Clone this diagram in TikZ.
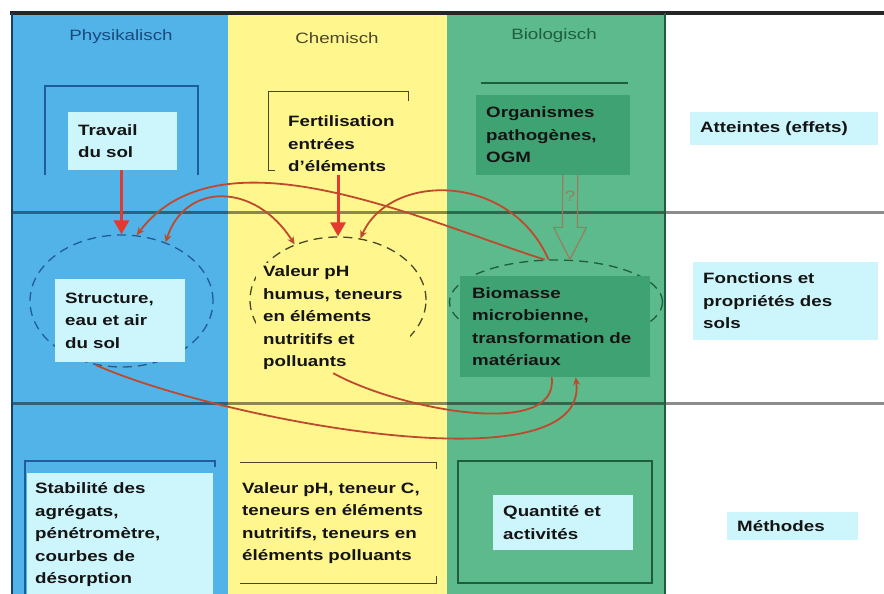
\documentclass[tikz,border=0pt]{standalone}
\usepackage{fontspec}
\setmainfont{Liberation Sans}[FakeStretch=1.25]
\usetikzlibrary{arrows.meta,shapes.geometric,calc}

\definecolor{physblue}{HTML}{52B3E8}
\definecolor{chemyellow}{HTML}{FFF68E}
\definecolor{biogreen}{HTML}{5DBA8D}
\definecolor{biodark}{HTML}{3FA273}
\definecolor{lightcyan}{HTML}{CDF6FC}
\definecolor{navyline}{HTML}{1F5C9A}
\definecolor{greenline}{HTML}{1E5E3E}
\definecolor{chemline}{HTML}{4A4628}
\definecolor{arrowred}{HTML}{E23A2E}
\definecolor{curvered}{HTML}{BE4A2E}
\definecolor{qbrown}{HTML}{9C7B5C}

\begin{document}
\begin{tikzpicture}[x=1pt,y=-1pt,
    >={Stealth[length=8pt,width=7pt]},
    txt/.style={font=\fontsize{15}{22.5}\selectfont\bfseries, text=black!92,
      align=left, anchor=west, inner xsep=10pt, inner ysep=3pt},
    cbox/.style={txt, fill=lightcyan},
    colhead/.style={font=\fontsize{15}{18}\selectfont},
    zone/.style={ellipse, dashed, dash pattern=on 9pt off 6pt, line width=1.3pt, inner sep=0pt},
    mainarr/.style={draw=arrowred, line width=3pt, -{Triangle[length=14pt,width=15pt]}},
    link/.style={draw=curvered, line width=1.8pt}]
  \useasboundingbox (0,0) rectangle (884,594);

  % columns and grid
  \fill[physblue] (12,13) rectangle (228,594);
  \fill[chemyellow] (228,13) rectangle (447,594);
  \fill[biogreen] (447,13) rectangle (665,594);
  \draw[black, opacity=.45, line width=3pt] (12,212) -- (884,212) (12,403) -- (884,403);
  \draw[black!85, line width=3.5pt] (10,13) -- (884,13);
  \draw[navyline!70!black, line width=2.5pt] (12,13) -- (12,594);
  \draw[greenline, line width=2pt] (665,13) -- (665,594);

  \node[colhead, text=navyline!80!black] (hphys) at (121,37) {Physikalisch};
  \node[colhead, text=chemline] (hchem) at (337,38) {Chemisch};
  \node[colhead, text=greenline] (hbio) at (554,36) {Biologisch};

  % frames
  \draw[navyline, line width=2pt] (45,175) -- (45,86) -- (198,86) -- (198,175);
  \draw[chemline, line width=1pt] (275,170) -- (268,170) -- (268,92) -- (408,92) -- (408,101);
  \draw[greenline, line width=2pt] (481,83) -- (628,83);
  \draw[navyline, line width=2pt] (25,594) -- (25,461) -- (215,461) -- (215,467);
  \draw[chemline, line width=1pt] (240,462) -- (436,462) -- (436,469)
    (240,583) -- (436,583) -- (436,576);

  % effects
  \node[cbox, text width=89pt, minimum height=58pt] (trav) at (68,141) {Travail\\du sol};
  \node[txt, text width=110pt] (fert) at (278,144) {Fertilisation\\entrées\\d'éléments};
  \node[txt, fill=biodark, text width=134pt, minimum height=80pt] (org) at (476,135) {Organismes\\pathogènes,\\OGM};
  \node[cbox, text width=168pt, minimum height=33pt] (att) at (690,128.5) {Atteintes (effets)};

  % functions
  \node[zone, draw=navyline, minimum width=183pt, minimum height=132pt] (ephys) at (121.5,301) {};
  \node[zone, draw=chemline, minimum width=176pt, minimum height=126pt] (echem) at (338,300) {};
  \node[zone, draw=greenline, minimum width=213pt, minimum height=84pt] (ebio) at (556,302) {};
  \node[cbox, text width=110pt, minimum height=83pt] (struc) at (55,320.5) {Structure,\\eau et air\\du sol};
  \node[txt, fill=chemyellow, inner xsep=7pt, text width=140pt] (val) at (256,318)
    {Valeur pH\\humus, teneurs\\en éléments\\nutritifs et\\polluants};
  \node[txt, fill=biodark, inner xsep=12pt, text width=166pt, minimum height=101pt] (bio) at (460,326.5)
    {Biomasse\\microbienne,\\transformation de\\matériaux};
  \node[cbox, text width=165pt, minimum height=78pt] (fonc) at (693,301) {Fonctions et\\propriétés des\\sols};

  % methods
  \node[cbox, inner xsep=8pt, text width=170pt, minimum height=124pt] (stab) at (27,535)
    {Stabilité des\\agrégats,\\pénétromètre,\\courbes de\\désorption};
  \node[txt, inner xsep=2pt, text width=192pt] (vmes) at (240,523)
    {Valeur pH, teneur C,\\teneurs en éléments\\nutritifs, teneurs en\\éléments polluants};
  \node[draw=greenline, line width=1.5pt, minimum width=194pt, minimum height=122pt] (qframe) at (555,522) {};
  \node[cbox, text width=120pt, minimum height=55pt] (quant) at (493,522.5) {Quantité et\\activités};
  \node[cbox, text width=111pt, minimum height=28pt] (meth) at (727,526) {Méthodes};

  % influences
  \draw[mainarr] (trav.south -| ephys.north) -- (ephys.north);
  \draw[mainarr] (fert.south -| echem.north) -- (echem.north);
  \draw[link, ->] (ebio.105) .. controls (420,220) and (220,125) .. (ephys.77);
  \draw[link, <->] (ephys.53) .. controls (185,182) and (255,182) .. (echem.128);
  \draw[link, ->] (ebio.100) .. controls (510,172) and (390,172) .. (echem.70);
  \draw[link, ->] (ephys.248) .. controls (220,420) and (590,490) .. (bio.-68);
  \draw[link] (val.south) .. controls (400,410) and (560,440) .. (bio.-94);

  \coordinate (qtail) at ($(org.south)+(17,0)$);
  \coordinate (qtip) at ($(ebio.north)+(14,0)$);
  \draw[qbrown, line width=1.2pt, line join=miter] ($(qtail)+(-7.5,0)$) -- ($(qtip)+(-7.5,-32)$)
    -- ($(qtip)+(-16.5,-32)$) -- (qtip) -- ($(qtip)+(16.5,-32)$) -- ($(qtip)+(7.5,-32)$)
    -- ($(qtail)+(7.5,0)$);
  \node[colhead, text=qbrown] (qmark) at ($(qtail)!0.25!(qtip)$) {?};
\end{tikzpicture}
\end{document}
